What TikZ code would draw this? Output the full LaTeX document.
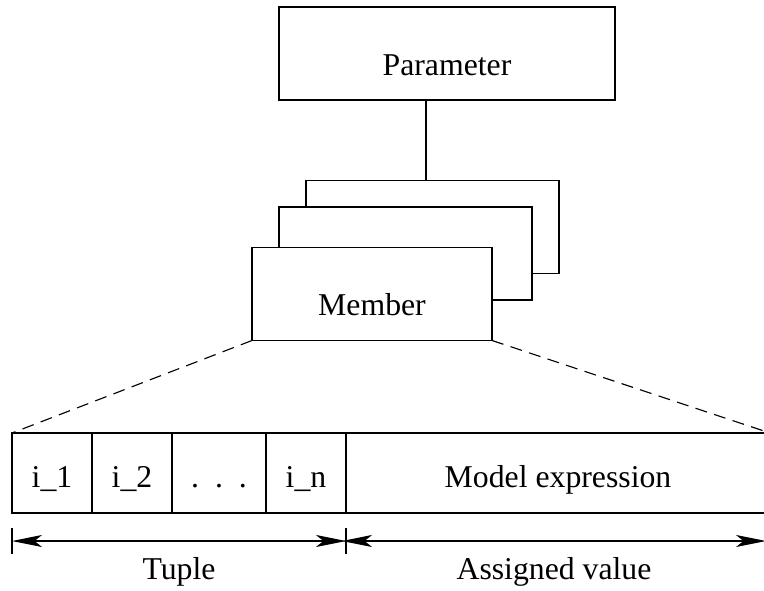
\documentclass[tikz,border=0pt]{standalone}
\usepackage{fontspec}
\setmainfont{Liberation Serif}
\usetikzlibrary{arrows.meta,positioning}

\begin{document}
\begin{tikzpicture}[
  x=0.4pt, y=-0.4pt,
  line width=0.45pt,
  font=\fontsize{12.7}{15}\selectfont,
  box/.style={rectangle, draw, fill=white, inner sep=0pt, outer sep=0pt,
              minimum height=37.2pt, text height=17.4pt, text depth=0pt},
  cell/.style={box, minimum width=32pt, minimum height=32pt, text height=11.2pt},
  >={Stealth[length=12pt, width=4.8pt, inset=3pt]}
]
\useasboundingbox (0,0) rectangle (764,591);
% parameter and its stack of members
\node[box, minimum width=134.4pt] (param) at (447,53.5) {Parameter};
\node[box, minimum width=101.2pt] (back) at (432.5,227) {};
\node[box, minimum width=101.2pt] (mid) at (405.5,253.5) {};
\node[box, minimum width=96pt] (member) at (372,294) {Member};
\draw (param.south -| 426,0) -- (back.north -| 426,0);
% one member, opened up
\node[cell, anchor=west] (c1) at (12,473) {i\_1};
\node[cell, right=0pt of c1] (c2) {i\_2};
\node[cell, right=0pt of c2, minimum width=37.6pt] (cdots) {.\enspace.\enspace.};
\node[cell, right=0pt of cdots] (cn) {i\_n};
\node[cell, right=0pt of cn, minimum width=169.6pt] (expr) {Model expression};
\draw[dash pattern=on 4.8pt off 3pt] (member.south west) -- (c1.north west);
\draw[dash pattern=on 4.8pt off 3pt] (member.south east) -- (expr.north east);
% extents
\coordinate[below=11.2pt of c1.south west] (dimL);
\coordinate[below=11.2pt of cn.south east] (dimM);
\coordinate[below=11.2pt of expr.south east] (dimR);
\foreach \t in {dimL,dimM}{\draw ([yshift=5.2pt]\t) -- ([yshift=-5.2pt]\t);}
\draw[<->] (dimL) -- node[below=6.5pt, inner sep=0pt] {Tuple} (dimM);
\draw[<->] ([xshift=-1.6pt]dimR -| dimM) -- node[below=6.5pt, inner sep=0pt] {Assigned value} ([xshift=-1.6pt]dimR);
\end{tikzpicture}
\end{document}
